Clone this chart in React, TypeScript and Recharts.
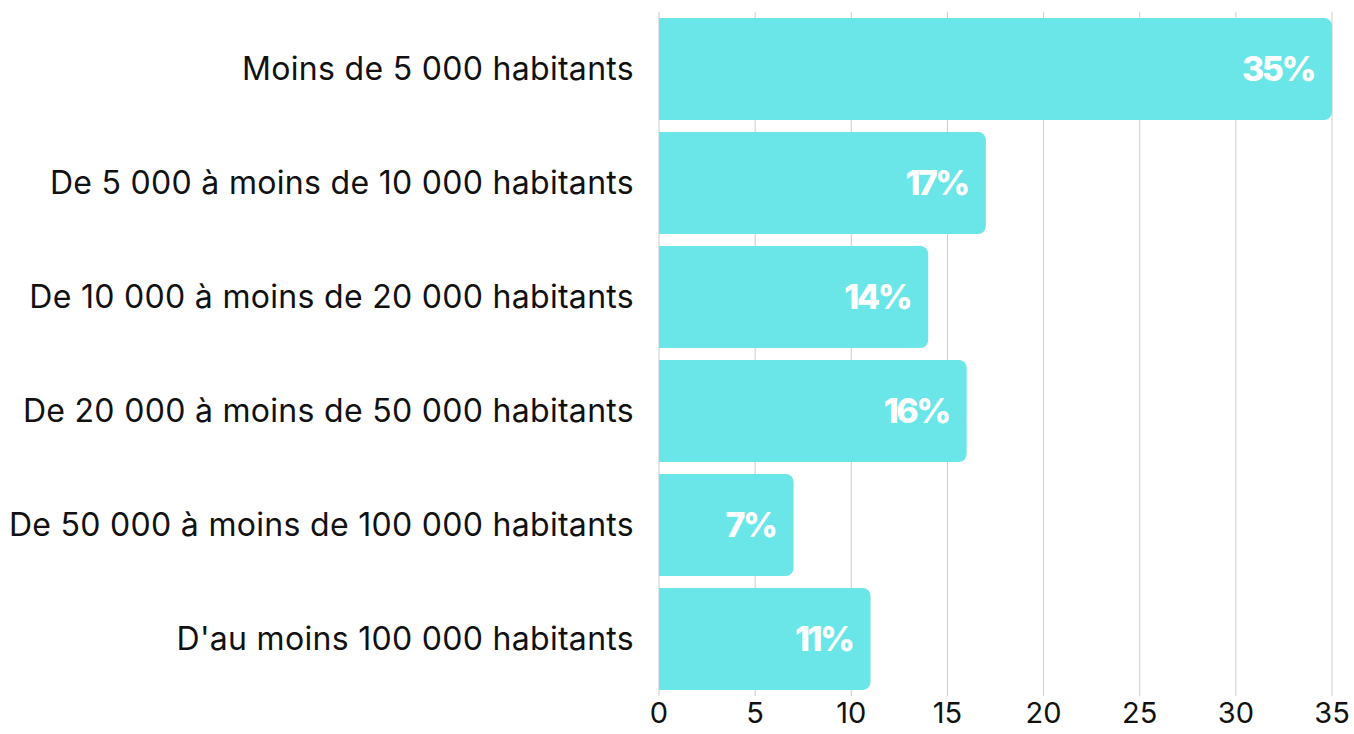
import React from "react";
import { BarChart, Bar, XAxis, YAxis, CartesianGrid, LabelList } from "recharts";

const categories = [
  "Moins de 5 000 habitants",
  "De 5 000 à moins de 10 000 habitants",
  "De 10 000 à moins de 20 000 habitants",
  "De 20 000 à moins de 50 000 habitants",
  "De 50 000 à moins de 100 000 habitants",
  "D'au moins 100 000 habitants",
];
const shares = [35, 17, 14, 16, 7, 11];
const xTicks = [0, 5, 10, 15, 20, 25, 30, 35];

const data = categories.map((name, i) => ({ name, value: shares[i] }));

const FONT = "Inter, 'Liberation Sans', Arial, sans-serif";

export default function App() {
  return (
    <div style={{ position: "absolute", left: 0, top: 0, background: "#fff" }}>
      <BarChart
        width={1354}
        height={734}
        data={data}
        layout="vertical"
        margin={{ top: 12, right: 22, bottom: 0, left: 0 }}
        barCategoryGap={6}
      >
        <CartesianGrid horizontal={false} stroke="#cccccc" />
        <XAxis
          type="number"
          domain={[0, 35]}
          ticks={xTicks}
          axisLine={false}
          tickLine={false}
          tickSize={0}
          tickMargin={6}
          height={38}
          tick={{ fill: "#111", fontSize: 29, fontFamily: FONT }}
        />
        <YAxis
          type="category"
          dataKey="name"
          width={659}
          axisLine={false}
          tickLine={false}
          tickSize={0}
          tickMargin={25}
          tick={{ fill: "#111", fontSize: 32, fontFamily: FONT, letterSpacing: 0.3 }}
        />
        <Bar dataKey="value" fill="#6be6e8" radius={[0, 8, 8, 0]} isAnimationActive={false}>
          <LabelList
            dataKey="value"
            position="insideRight"
            offset={18}
            formatter={(v: number) => `${v}%`}
            style={{ fill: "#fff", fontSize: 34, fontWeight: 800, fontFamily: FONT, letterSpacing: -2.5 }}
          />
        </Bar>
      </BarChart>
    </div>
  );
}
